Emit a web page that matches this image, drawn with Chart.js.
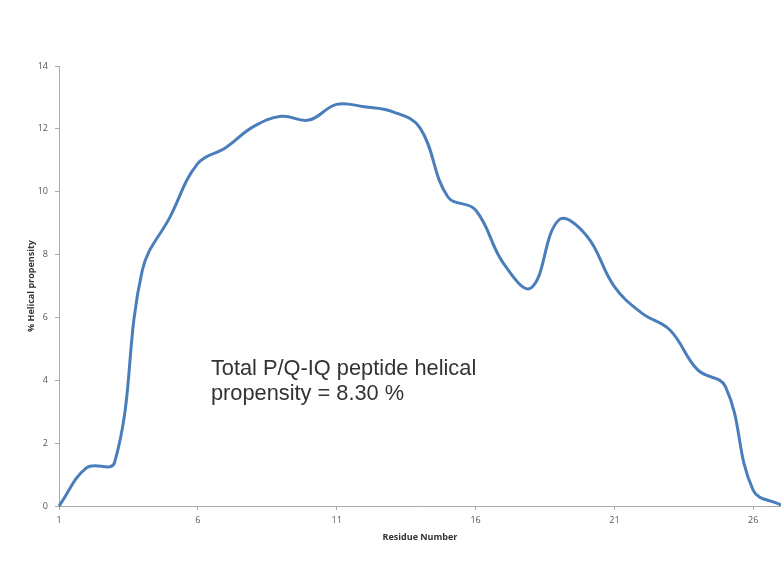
<!DOCTYPE html>
<html>
<head>
<meta charset="utf-8">
<script src="https://cdn.jsdelivr.net/npm/chart.js@4"></script>
<style>
  html, body { margin: 0; padding: 0; background: #fff; }
  #wrap { width: 781px; height: 588px; }
</style>
</head>
<body>
<div id="wrap"><canvas id="chart" width="781" height="588"></canvas></div>
<script>
// Residue numbers along the peptide
const residues = [1, 2, 3, 4, 5, 6, 7, 8, 9, 10, 11, 12, 13, 14, 15, 16, 17, 18, 19, 20, 21, 22, 23, 24, 25, 26, 27];
// % helical propensity per residue
const helicity = [0, 1.22, 1.38, 7.5, 9.2, 10.9, 11.4, 12.07, 12.4, 12.28, 12.78, 12.7, 12.55, 12.03,
                  9.84, 9.42, 7.73, 6.94, 9.1, 8.6, 6.98, 6.13, 5.6, 4.33, 3.8, 0.5, 0.03];
const xTicks = [1, 6, 11, 16, 21, 26];
const yTicks = [0, 2, 4, 6, 8, 10, 12, 14];
const noteLines = ['Total P/Q-IQ peptide helical', 'propensity = 8.30 %'];

// Note text placed in data space (residue, % value of first baseline)
const noteAt = { x: 6.47, y: 4.17 };

const notePlugin = {
    id: 'note',
    afterDatasetsDraw(chart) {
        const ctx = chart.ctx;
        const px = chart.scales.x.getPixelForValue(noteAt.x);
        const py = chart.scales.y.getPixelForValue(noteAt.y);
        ctx.save();
        ctx.font = '21.8px "Liberation Sans", Arial, sans-serif';
        ctx.fillStyle = '#333333';
        ctx.textAlign = 'left';
        ctx.textBaseline = 'alphabetic';
        noteLines.forEach((line, i) => ctx.fillText(line, px, py + i * 25));
        ctx.restore();
    }
};

const tickFont = { family: '"Open Sans", "DejaVu Sans", sans-serif', size: 9 };
const titleFont = { family: '"Open Sans", "DejaVu Sans", sans-serif', size: 9, weight: 'bold' };

new Chart(document.getElementById('chart'), {
    type: 'line',
    data: {
        datasets: [{
            data: residues.map((r, i) => ({ x: r, y: helicity[i] })),
            borderColor: '#4a7ebb',
            borderWidth: 3,
            pointRadius: 0,
            fill: false,
            tension: 0.4,
            clip: false
        }]
    },
    options: {
        responsive: false,
        animation: false,
        layout: { padding: { top: 66, right: 0, bottom: 0, left: 0 } },
        plugins: {
            legend: { display: false },
            tooltip: { enabled: false }
        },
        scales: {
            x: {
                type: 'linear',
                min: 1,
                max: 27,
                afterBuildTicks: axis => { axis.ticks = xTicks.map(v => ({ value: v })); },
                afterFit: axis => { axis.height = 82; },
                grid: { drawOnChartArea: false, tickLength: 4, color: '#aaaaaa' },
                border: { color: '#aaaaaa', width: 1 },
                ticks: { color: '#555555', font: tickFont, padding: 5, maxRotation: 0 },
                title: {
                    display: true,
                    text: 'Residue Number',
                    color: '#333333',
                    font: titleFont,
                    padding: { top: 0, bottom: 45 }
                }
            },
            y: {
                min: 0,
                max: 14,
                afterBuildTicks: axis => { axis.ticks = yTicks.map(v => ({ value: v })); },
                afterFit: axis => { axis.width = 59; },
                grid: { drawOnChartArea: false, tickLength: 4, color: '#aaaaaa' },
                border: { color: '#aaaaaa', width: 1 },
                ticks: { color: '#555555', font: tickFont, padding: 7 },
                title: {
                    display: true,
                    text: '% Helical propensity',
                    color: '#333333',
                    font: titleFont,
                    padding: { top: 26, bottom: 0 }
                }
            }
        }
    },
    plugins: [notePlugin]
});
</script>
</body>
</html>
